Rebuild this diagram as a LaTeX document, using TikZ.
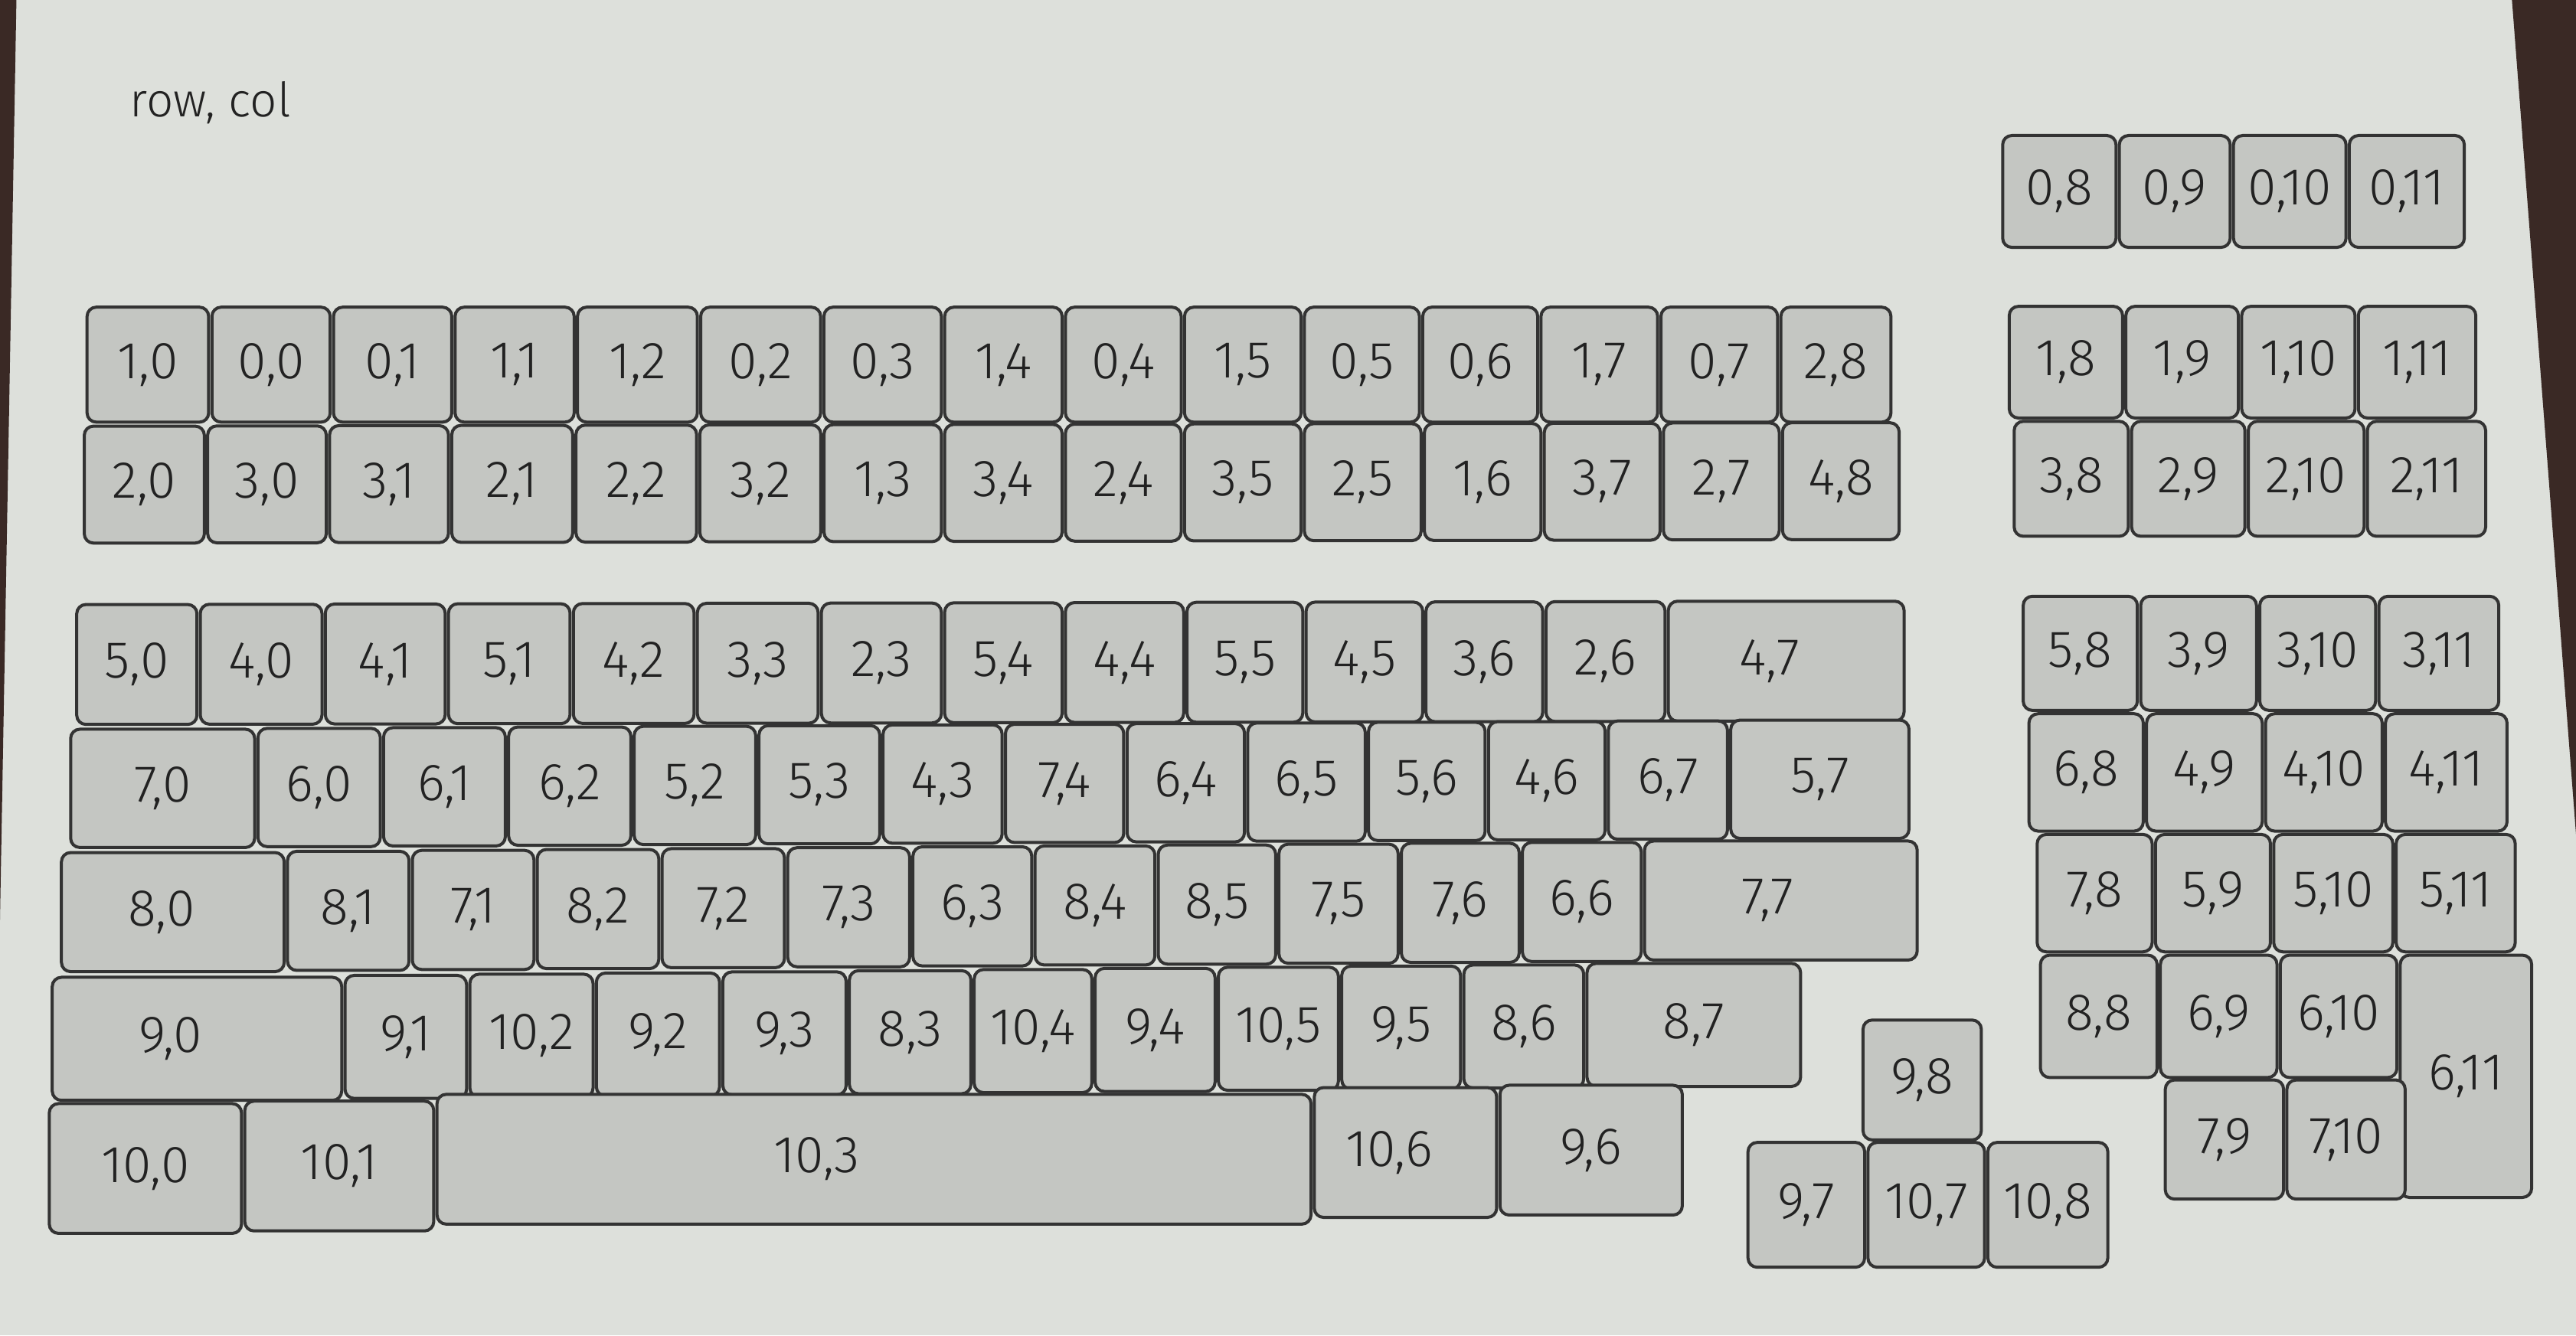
\documentclass[tikz,border=0pt]{standalone}
\usepackage{fontspec}
\IfFontExistsTF{Fira Sans Light}{\setmainfont{Fira Sans Light}}{\setmainfont{Fira Sans}}
\definecolor{paper}{HTML}{DDE0DB}
\definecolor{keyfill}{HTML}{C4C6C2}
\definecolor{keyline}{HTML}{333333}
\definecolor{ink}{HTML}{222222}
\definecolor{wood}{HTML}{3A2925}
\tikzset{
  keyshape/.style={draw=keyline, fill=keyfill, line width=4pt, rounded corners=12pt},
  keylabel/.style={text=ink, font=\fontsize{68}{74}\selectfont, inner sep=0pt},
  notelabel/.style={text=ink, font=\fontsize{62}{68}\selectfont, inner sep=0pt, anchor=base west}
}
\newcommand\setrow[3]{\def\rt{#1}\def\rb{#2}\def\rs{#3}}
\newcommand\kk[5][0]{%
  \draw[keyshape] ({#3+1},{\rt+\rs*(#3+#4)/2}) rectangle ({#4-1},{\rb+\rs*(#3+#4)/2});
  \node[keylabel] (#2) at ({(#3+#4)/2+#1},{(\rt+\rb)/2+\rs*(#3+#4)/2}) {#5};}
\begin{document}
\begin{tikzpicture}[x=2.1454pt,y=-2.1454pt]
\useasboundingbox (0,0) rectangle (1568,813);
\fill[paper] (0,0) rectangle (1568,813);
\fill[wood] (0,0) -- (10,0) -- (0,560) -- cycle;
\fill[wood] (1529,0) -- (1568,0) -- (1568,508) -- cycle;
\node[notelabel] (note) at (79,71) {row, col};
% Row A
\setrow{187}{257}{0}
\kk{k1x0}{52}{128}{1,0}
\kk{k0x0}{128}{202}{0,0}
\kk{k0x1}{202}{276}{0,1}
\kk{k1x1}{276}{350.5}{1,1}
\kk{k1x2}{350.5}{425.5}{1,2}
\kk{k0x2}{425.5}{500.5}{0,2}
\kk{k0x3}{500.5}{574}{0,3}
\kk{k1x4}{574}{647.5}{1,4}
\kk{k0x4}{647.5}{720}{0,4}
\kk{k1x5}{720}{793}{1,5}
\kk{k0x5}{793}{865}{0,5}
\kk{k0x6}{865}{937}{0,6}
\kk{k1x7}{937}{1010}{1,7}
\kk{k0x7}{1010}{1083}{0,7}
\kk{k2x8}{1083}{1152}{2,8}
% Row B
\setrow{259.6}{330.8}{-0.002}
\kk{k2x0}{50.3}{125.4}{2,0}
\kk{k3x0}{125.4}{199.6}{3,0}
\kk{k3x1}{199.6}{274}{3,1}
\kk{k2x1}{274}{349.6}{2,1}
\kk{k2x2}{349.6}{425}{2,2}
\kk{k3x2}{425}{500.6}{3,2}
\kk{k1x3}{500.6}{574}{1,3}
\kk{k3x4}{574}{647.5}{3,4}
\kk{k2x4}{647.5}{720}{2,4}
\kk{k3x5}{720}{793}{3,5}
\kk{k2x5}{793}{866}{2,5}
\kk{k1x6}{866}{939}{1,6}
\kk{k3x7}{939}{1011.5}{3,7}
\kk{k2x7}{1011.5}{1084}{2,7}
\kk{k4x8}{1084}{1157}{4,8}
% Row C
\setrow{368.2}{441.2}{-0.002}
\kk{k5x0}{45.7}{120.9}{5,0}
\kk{k4x0}{120.9}{197}{4,0}
\kk{k4x1}{197}{272}{4,1}
\kk{k5x1}{272}{348}{5,1}
\kk{k4x2}{348}{423.5}{4,2}
\kk{k3x3}{423.5}{499}{3,3}
\kk{k2x3}{499}{574}{2,3}
\kk{k5x4}{574}{647.5}{5,4}
\kk{k4x4}{647.5}{721.5}{4,4}
\kk{k5x5}{721.5}{794}{5,5}
\kk{k4x5}{794}{867}{4,5}
\kk{k3x6}{867}{940}{3,6}
\kk{k2x6}{940}{1014.5}{2,6}
\kk[-10]{k4x7}{1014.5}{1160}{4,7}
% Row D
\setrow{444.5}{516.5}{-0.0055}
\kk{k7x0}{42}{156}{7,0}
\kk{k6x0}{156}{232.5}{6,0}
\kk{k6x1}{232.5}{308.6}{6,1}
\kk{k6x2}{308.6}{385}{6,2}
\kk{k5x2}{385}{461}{5,2}
\kk{k5x3}{461}{536.5}{5,3}
\kk{k4x3}{536.5}{611}{4,3}
\kk{k7x4}{611}{685}{7,4}
\kk{k6x4}{685}{758.5}{6,4}
\kk{k6x5}{758.5}{832}{6,5}
\kk{k5x6}{832}{905}{5,6}
\kk{k4x6}{905}{978}{4,6}
\kk{k6x7}{978}{1052.5}{6,7}
\kk{k5x7}{1052.5}{1163}{5,7}
% Row E
\setrow{519.8}{592.3}{-0.0072}
\kk[-7]{k8x0}{36.4}{174}{8,0}
\kk{k8x1}{174}{250}{8,1}
\kk{k7x1}{250}{326}{7,1}
\kk{k8x2}{326}{402}{8,2}
\kk{k7x2}{402}{478.5}{7,2}
\kk{k7x3}{478.5}{554.7}{7,3}
\kk{k6x3}{554.7}{629}{6,3}
\kk{k8x4}{629}{704}{8,4}
\kk{k8x5}{704}{777.5}{8,5}
\kk{k7x5}{777.5}{852}{7,5}
\kk{k7x6}{852}{925.7}{7,6}
\kk{k6x6}{925.7}{1000}{6,6}
\kk[-8]{k7x7}{1000}{1168}{7,7}
% Row F
\setrow{596.1}{671}{-0.0093}
\kk[-16]{k9x0}{30.8}{209}{9,0}
\kk{k9x1}{209}{285}{9,1}
\kk{k10x2}{285}{362}{10,2}
\kk{k9x2}{362}{439}{9,2}
\kk{k9x3}{439}{516}{9,3}
\kk{k8x3}{516}{592}{8,3}
\kk{k10x4}{592}{665.6}{10,4}
\kk{k9x4}{665.6}{740.6}{9,4}
\kk{k10x5}{740.6}{815.7}{10,5}
\kk{k9x5}{815.7}{890}{9,5}
\kk{k8x6}{890}{965}{8,6}
\kk{k8x7}{965}{1097}{8,7}
% Row G
\setrow{673}{752}{-0.0127}
\kk{k10x0}{29}{148}{10,0}
\kk{k10x1}{148}{265}{10,1}
\kk[-35]{k10x3}{265}{799}{10,3}
\kk[-10]{k10x6}{799}{912}{10,6}
\kk{k9x6}{912}{1025}{9,6}
% Top right row
\setrow{82.5}{150.6}{0}
\kk{k0x8}{1218}{1289}{0,8}
\kk{k0x9}{1289}{1358.5}{0,9}
\kk{k0x10}{1358.5}{1429}{0,10}
\kk{k0x11}{1429}{1501}{0,11}
\setrow{186.5}{254.5}{0}
\kk{k1x8}{1222}{1293}{1,8}
\kk{k1x9}{1293}{1363.5}{1,9}
\kk{k1x10}{1363.5}{1434.5}{1,10}
\kk{k1x11}{1434.5}{1508}{1,11}
\setrow{256.5}{326.5}{0}
\kk{k3x8}{1225}{1296.5}{3,8}
\kk{k2x9}{1296.5}{1367.5}{2,9}
\kk{k2x10}{1367.5}{1440}{2,10}
\kk{k2x11}{1440}{1514}{2,11}
% Numpad
\setrow{363}{432.5}{0}
\kk{k5x8}{1230.5}{1302}{5,8}
\kk{k3x9}{1302}{1374.5}{3,9}
\kk{k3x10}{1374.5}{1447}{3,10}
\kk{k3x11}{1447}{1522}{3,11}
\setrow{434.5}{506}{0}
\kk{k6x8}{1234}{1305.6}{6,8}
\kk{k4x9}{1305.6}{1378}{4,9}
\kk{k4x10}{1378}{1451}{4,10}
\kk{k4x11}{1451}{1527}{4,11}
\setrow{508}{579.5}{0}
\kk{k7x8}{1239}{1311}{7,8}
\kk{k5x9}{1311}{1383}{5,9}
\kk{k5x10}{1383}{1457.5}{5,10}
\kk{k5x11}{1457.5}{1532}{5,11}
\setrow{581.5}{656}{0}
\kk{k8x8}{1241}{1314}{8,8}
\kk{k6x9}{1314}{1387}{6,9}
\kk{k6x10}{1387}{1460}{6,10}
\setrow{581.5}{729}{0}
\kk{k6x11}{1460}{1542}{6,11}
\setrow{657.5}{730}{0}
\kk{k7x9}{1317}{1391}{7,9}
\kk{k7x10}{1391}{1465}{7,10}
% Arrow cluster
\setrow{621}{694}{0}
\kk{k9x8}{1133}{1207}{9,8}
\setrow{695.5}{771.5}{0}
\kk{k9x7}{1063}{1136}{9,7}
\kk{k10x7}{1136}{1209}{10,7}
\kk{k10x8}{1209}{1284}{10,8}
\end{tikzpicture}
\end{document}
